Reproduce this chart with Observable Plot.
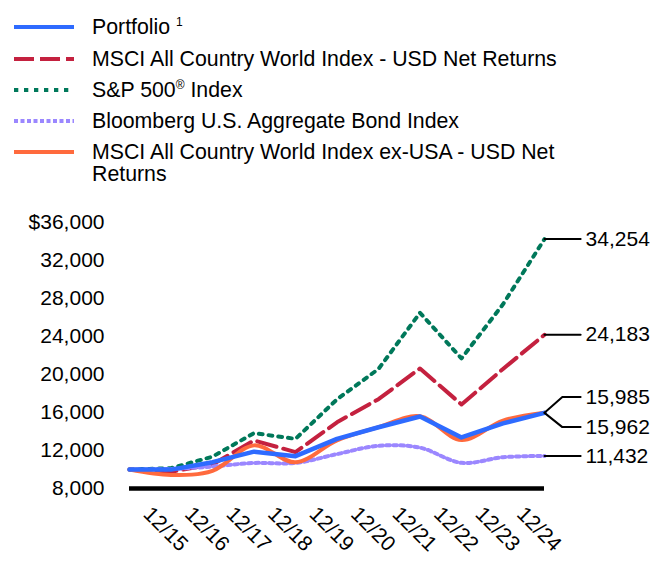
<!DOCTYPE html>
<html>
<head>
<meta charset="utf-8">
<script src="https://cdn.jsdelivr.net/npm/d3@7"></script>
<script src="https://cdn.jsdelivr.net/npm/@observablehq/plot@0.6"></script>
<style>
  body { margin: 0; background: #fff; font-family: "Liberation Sans", Arial, sans-serif; }
  #legend { position: relative; height: 195px; width: 672px; }
  .row { position: absolute; left: 0; width: 672px; height: 22px; }
  .row svg { position: absolute; left: 14px; top: 0; }
  .row span { position: absolute; left: 92px; top: 0; width: 500px; font-size: 21.3px; line-height: 22px; color: #000; }
  .row sup { font-size: 12px; vertical-align: 0; position: relative; top: -8px; }
  #chart svg { display: block; }
</style>
</head>
<body>
<div id="legend"></div>
<div id="chart"></div>
<script>
// ---- data ----
const dates = ["12/14", "12/15", "12/16", "12/17", "12/18", "12/19", "12/20", "12/21", "12/22", "12/23", "12/24"];
const portfolio = [10000, 9990, 10770, 11880, 11400, 13230, 14450, 15580, 13370, 14850, 15962];
const acwi      = [10000, 9764, 10531, 13056, 11827, 14973, 17406, 20634, 16845, 20585, 24183];
const sp500     = [10000, 10138, 11351, 13829, 13223, 17386, 20585, 26494, 21696, 27399, 34254];
const agg       = [10000, 10055, 10321, 10687, 10688, 11620, 12492, 12300, 10700, 11291, 11432];
const acwiExUS  = [10000, 9434, 9858, 12539, 10758, 13072, 14464, 15596, 13100, 15146, 15985];
const yTicks = [8000, 12000, 16000, 20000, 24000, 28000, 32000, 36000];
const xTickLabels = dates.slice(1);

const seriesNames = [
  "Portfolio",
  "MSCI All Country World Index - USD Net Returns",
  "S&P 500® Index",
  "Bloomberg U.S. Aggregate Bond Index",
  "MSCI All Country World Index ex-USA - USD Net Returns"
];
const seriesValues = [portfolio, acwi, sp500, agg, acwiExUS];
const colors = ["#2E6BFF", "#C4213F", "#00785A", "#9B87FF", "#FF6A3D"];
const dashes = [null, "20,7", "3.8,6", "3.5,3.5", null];
const legendDashes = [null, "20,6", "4.3,5.7", "4,2.5", null];
const curves = ["linear", "linear", "linear", "catmull-rom", "catmull-rom"];
// end-label leader offsets (value units) for the two overlapping labels
const endLabelOffsets = [-1500, 0, 0, 0, 1650];

// ---- legend ----
const legendHTML = [
  'Portfolio <sup>1</sup>',
  'MSCI All Country World Index - USD Net Returns',
  'S&amp;P 500<sup>®</sup> Index',
  'Bloomberg U.S. Aggregate Bond Index',
  'MSCI All Country World Index ex-USA - USD Net Returns'
];
const legendTops = [16, 48, 79, 110, 141];
const legend = document.getElementById("legend");
legendHTML.forEach((html, i) => {
  const row = document.createElement("div");
  row.className = "row";
  row.style.top = legendTops[i] + "px";
  const dash = legendDashes[i] ? ` stroke-dasharray="${legendDashes[i]}"` : "";
  row.innerHTML = `<svg width="60" height="22"><line x1="0" x2="60" y1="11" y2="11" stroke="${colors[i]}" stroke-width="4"${dash}/></svg><span>${html}</span>`;
  legend.appendChild(row);
});

// ---- long table ----
const rows = [];
seriesValues.forEach((vals, s) => vals.forEach((v, i) => rows.push({series: seriesNames[s], s, i, date: dates[i], value: v})));

const drawOrder = [2, 1, 3, 4, 0];
const lineMarks = drawOrder.map(s => Plot.line(rows.filter(r => r.s === s), {
  x: "i", y: "value",
  stroke: colors[s], strokeWidth: s === 0 ? 4.5 : 4,
  strokeDasharray: dashes[s] || undefined,
  curve: curves[s]
}));

const last = dates.length - 1;
const endLabels = seriesValues.map((vals, s) => ({
  s, value: vals[last], labelValue: vals[last] + endLabelOffsets[s], text: d3.format(",")(vals[last])
}));
const leaderRows = [];
endLabels.forEach(d => {
  leaderRows.push({s: d.s, x: last, y: d.value});
  leaderRows.push({s: d.s, x: last + 0.43, y: d.labelValue});
  leaderRows.push({s: d.s, x: last + 0.87, y: d.labelValue});
});

const chart = Plot.plot({
  width: 672,
  height: 390,
  marginLeft: 129,
  marginRight: 128,
  marginTop: 27,
  marginBottom: 97,
  style: {fontSize: "21px", fontFamily: "'Liberation Sans', Arial, sans-serif", color: "#000", background: "#fff"},
  x: {type: "linear", domain: [0, last], axis: null},
  y: {domain: [8000, 36000], axis: null},
  marks: [
    Plot.axisY(yTicks, {tickSize: 0, tickPadding: 25, fontSize: 21, fill: "#000",
      tickFormat: d => (d === 36000 ? "$" : "") + d3.format(",")(d)}),
    ...lineMarks,
    Plot.ruleY([8000], {stroke: "#000", strokeWidth: 4.5}),
    Plot.text(xTickLabels, {x: (d, i) => i + 1, y: () => 8000, text: d => d, rotate: 45,
      textAnchor: "start", dx: -24, dy: 22, fontSize: 21, fill: "#000"}),
    Plot.line(leaderRows, {x: "x", y: "y", z: "s", stroke: "#000", strokeWidth: 2}),
    Plot.text(endLabels, {x: () => last + 0.87, y: "labelValue", text: "text", textAnchor: "start",
      dx: 5, fontSize: 21, fill: "#000"})
  ]
});
document.getElementById("chart").appendChild(chart);
</script>
</body>
</html>
